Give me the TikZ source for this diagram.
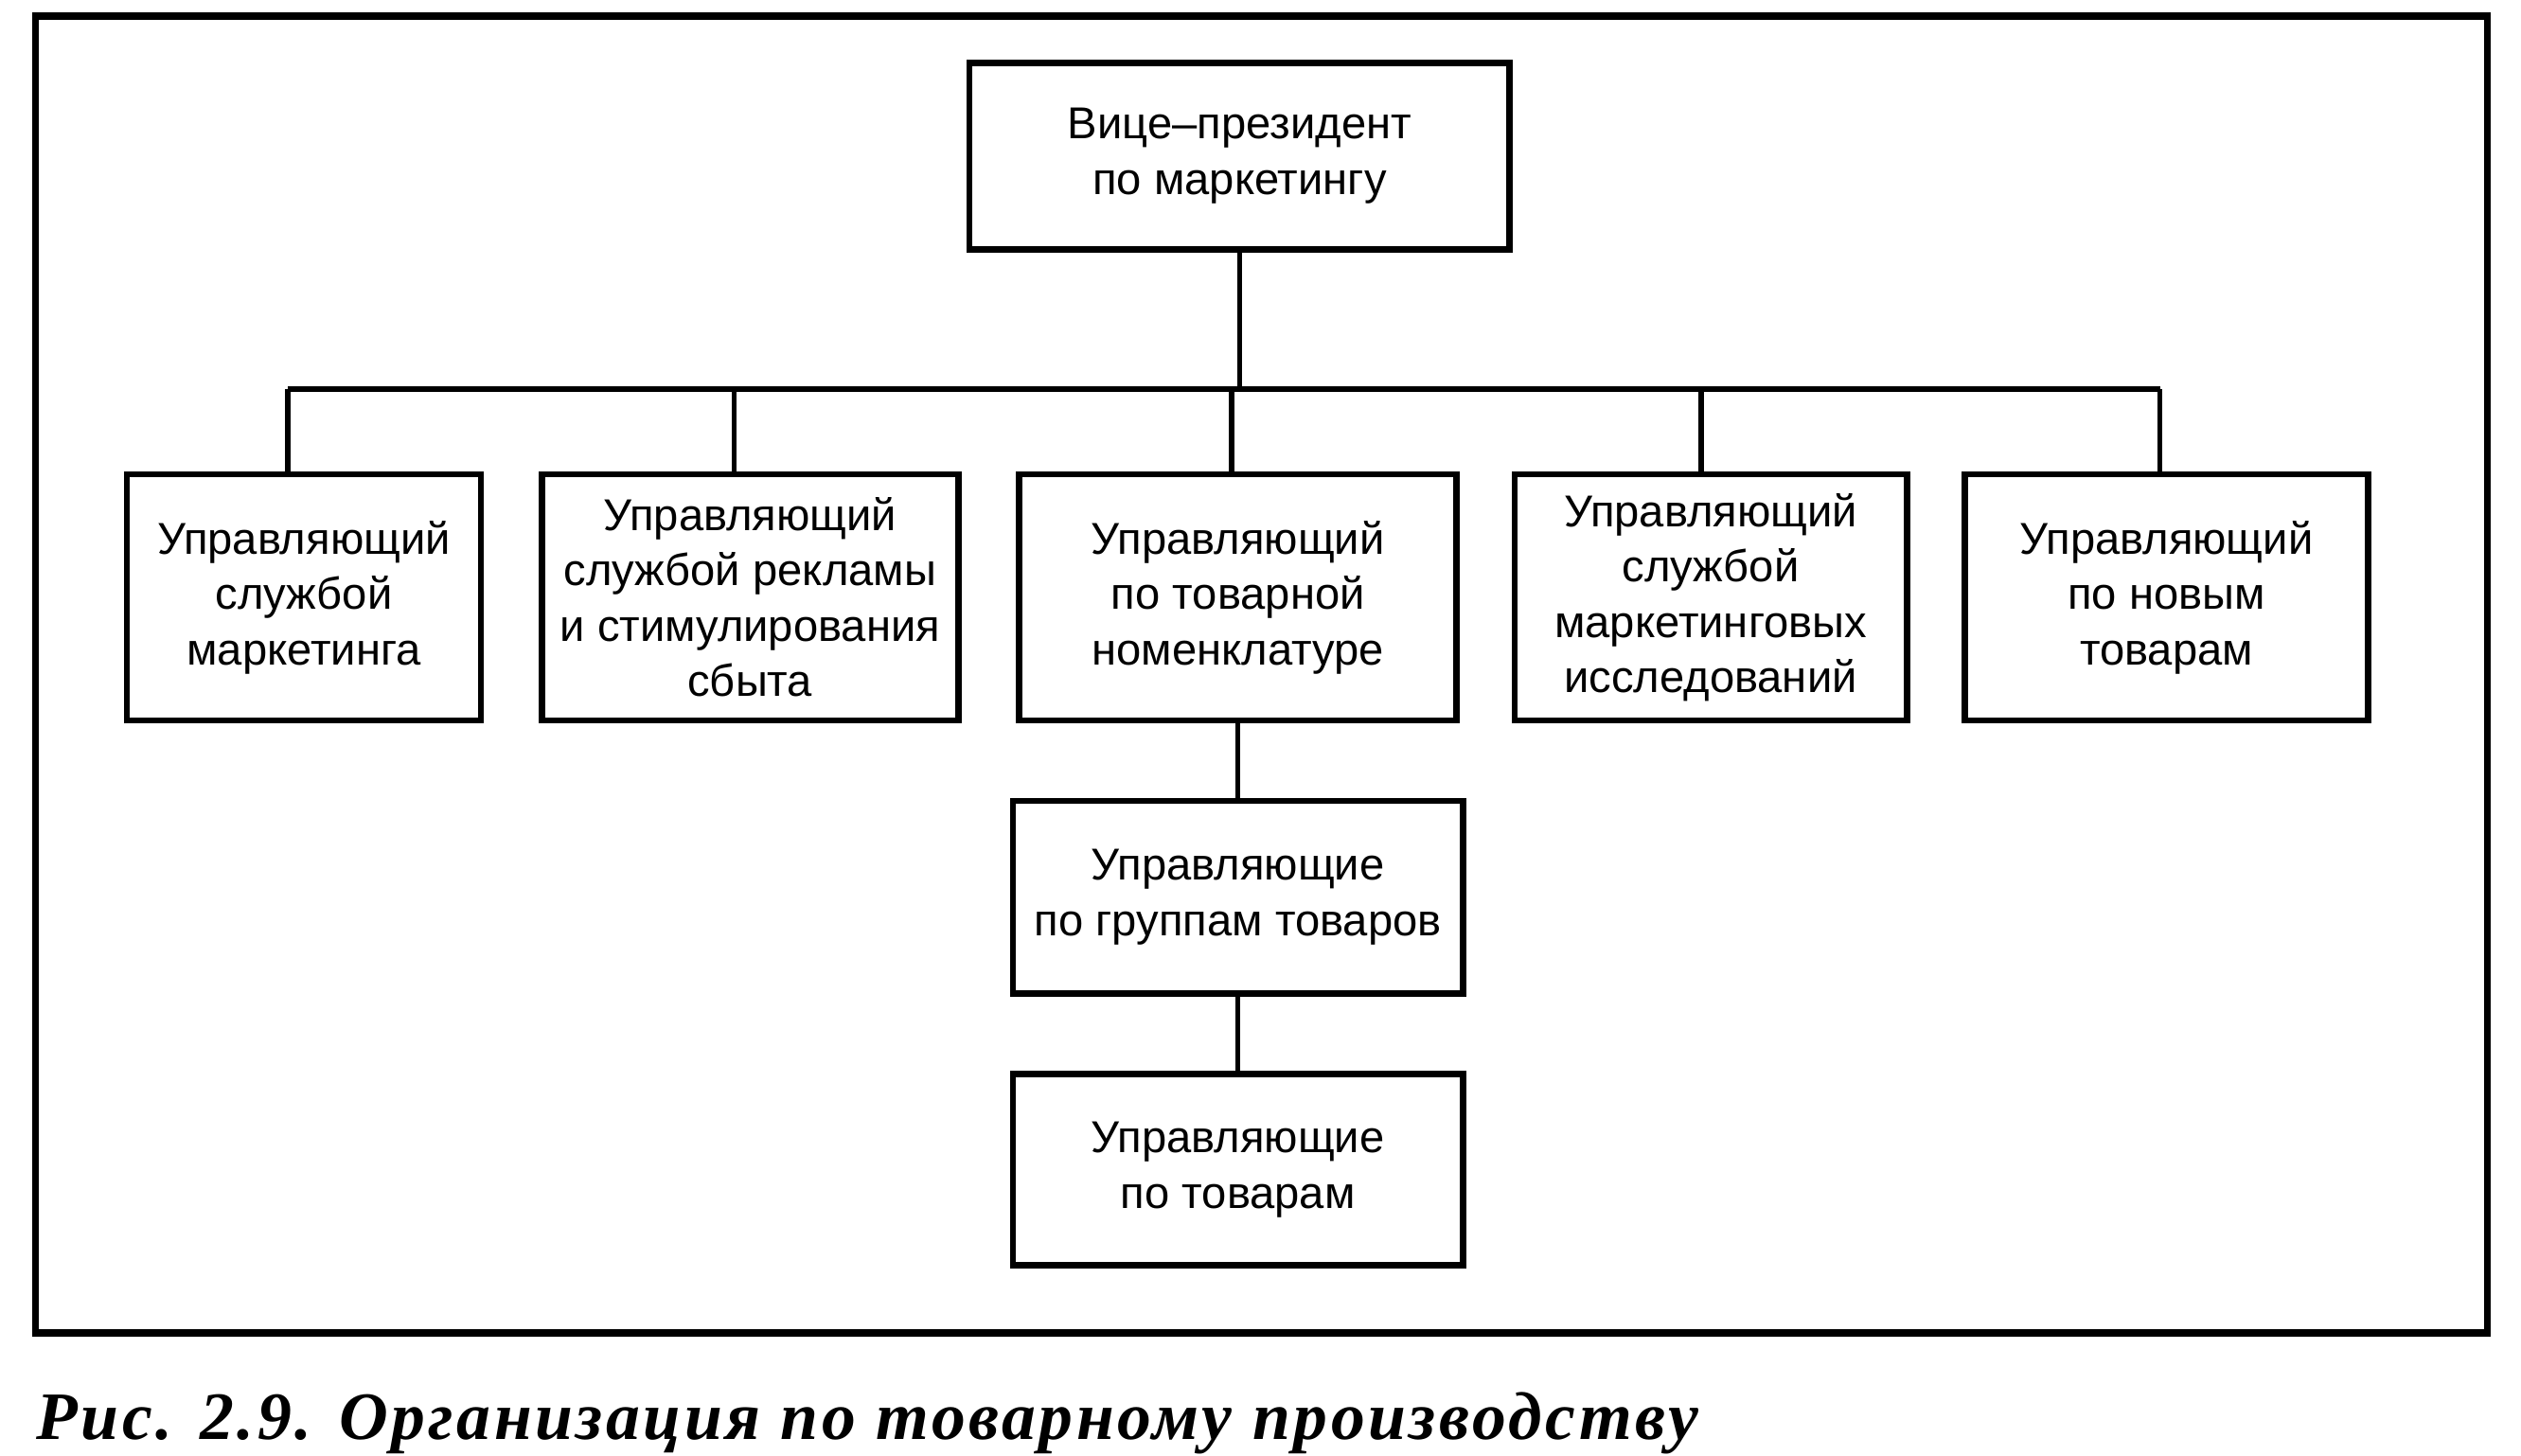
\documentclass[tikz,border=0pt]{standalone}
\usepackage{fontspec}
\setmainfont{Liberation Sans}
\newfontfamily\capfont[LetterSpace=5]{Liberation Serif}
\usetikzlibrary{calc}

\begin{document}
\begin{tikzpicture}[
  box/.style={draw, line width=1.1pt, align=center, inner sep=0pt,
    font=\fontsize{7.9}{9.8}\selectfont},
  link/.style={line width=0.9pt}
 ]
 \useasboundingbox (0,0) rectangle (15.68,9.05);
 \draw[line width=1.2pt] (0.22,0.76) rectangle (15.47,8.95);

 \node[box, minimum width=3.36cm, minimum height=1.16cm] (vp) at (7.71,8.08) {Вице–президент\\по маркетингу};

 \node[box, minimum width=2.20cm, minimum height=1.53cm] (m1) at (1.89,5.335) {Управляющий\\службой\\маркетинга};
 \node[box, minimum width=2.59cm, minimum height=1.53cm] (m2) at (4.665,5.335) {Управляющий\\службой рекламы\\и стимулирования\\сбыта};
 \node[box, minimum width=2.72cm, minimum height=1.53cm] (m3) at (7.70,5.335) {Управляющий\\по товарной\\номенклатуре};
 \node[box, minimum width=2.44cm, minimum height=1.53cm] (m4) at (10.64,5.335) {Управляющий\\службой\\маркетинговых\\исследований};
 \node[box, minimum width=2.51cm, minimum height=1.53cm] (m5) at (13.475,5.335) {Управляющий\\по новым\\товарам};

 \node[box, minimum width=2.80cm, minimum height=1.20cm] (grp) at (7.70,3.47) {Управляющие\\по группам товаров};
 \node[box, minimum width=2.80cm, minimum height=1.19cm] (tov) at (7.70,1.775) {Управляющие\\по товарам};

 % bus line
 \coordinate (bus) at (7.66,6.63);
 \draw[link] (vp.south) -- (vp.south |- bus);
 \draw[link] ($(m1.north |- bus)+(-0.1,0)$) -- ($(m5.north |- bus)+(-0.04,0)$);
 \draw[link] ($(m1.north)+(-0.1,0)$) -- ($(m1.north |- bus)+(-0.1,0)$);
 \draw[link] ($(m2.north)+(-0.1,0)$) -- ($(m2.north |- bus)+(-0.1,0)$);
 \draw[link] ($(m3.north)+(-0.04,0)$) -- ($(m3.north |- bus)+(-0.04,0)$);
 \draw[link] ($(m4.north)+(-0.06,0)$) -- ($(m4.north |- bus)+(-0.06,0)$);
 \draw[link] ($(m5.north)+(-0.04,0)$) -- ($(m5.north |- bus)+(-0.04,0)$);

 \draw[link] (m3.south) -- (grp.north);
 \draw[link] (grp.south) -- (tov.north);

 \node[anchor=base west, inner sep=0pt, font=\capfont\bfseries\itshape\fontsize{12}{14}\selectfont] (cap) at (0.22,0.10) {Рис. 2.9. Организация по товарному производству};
\end{tikzpicture}
\end{document}
